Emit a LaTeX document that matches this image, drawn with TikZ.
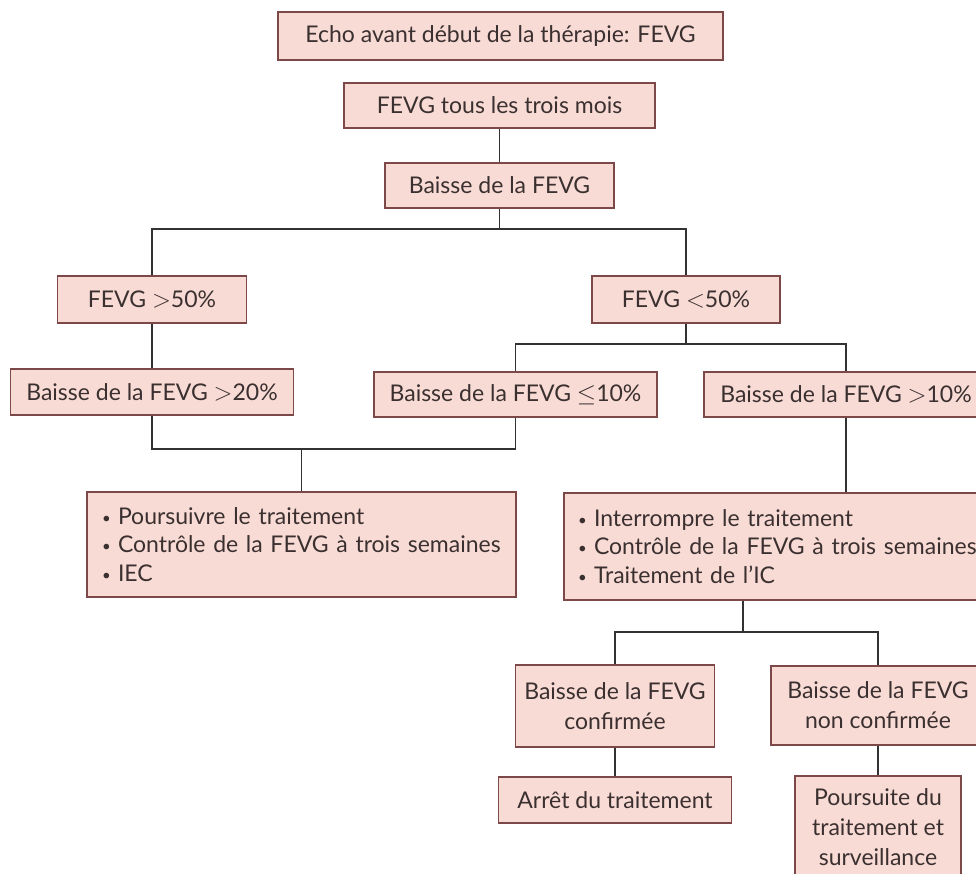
\documentclass[tikz,border=0pt]{standalone}
\usepackage{fontspec}
\setmainfont{Lato}
\definecolor{boxfill}{RGB}{249,219,213}
\definecolor{boxline}{RGB}{125,72,72}
\definecolor{txtcol}{RGB}{58,48,48}
\definecolor{wirecol}{RGB}{50,50,50}
\newcommand{\bul}{\makebox[16pt][l]{\raisebox{1pt}{\fontsize{15}{15}\selectfont •}}}
\begin{document}
\begin{tikzpicture}[x=1pt,y=-1pt,
  box/.style={draw=boxline, line width=1.6pt, fill=boxfill, text=txtcol,
    font=\fontsize{23}{30}\selectfont, inner sep=0pt, align=center},
  listbox/.style={box, align=left, font=\fontsize{23}{28.5}\selectfont},
  wire/.style={draw=wirecol, line width=1.8pt}]
\clip (0,0) rectangle (976,873);
\fill[white] (0,0) rectangle (976,873);

\node[box, minimum width=445pt, minimum height=48pt] (n1) at (500.5,36) {Echo avant début de la thérapie: FEVG};
\node[box, minimum width=311pt, minimum height=45pt] (n2) at (499.5,105.5) {FEVG tous les trois mois};
\node[box, minimum width=229pt, minimum height=45pt] (n3) at (499.5,185.5) {Baisse de la FEVG};
\node[box, minimum width=189pt, minimum height=47pt] (n4) at (152,299.5) {FEVG $>$50\%};
\node[box, minimum width=188pt, minimum height=47pt] (n5) at (686,299.5) {FEVG $<$50\%};
\node[box, minimum width=283pt, minimum height=46pt] (n6) at (152,392) {Baisse de la FEVG $>$20\%};
\node[box, minimum width=283pt, minimum height=45pt] (n7) at (515.5,394.5) {Baisse de la FEVG $\leq$10\%};
\node[box, minimum width=284pt, minimum height=45pt] (n8) at (846,394.5) {Baisse de la FEVG $>$10\%};
\node[listbox, text width=399pt, inner xsep=15pt, minimum height=105pt] (n9) at (301.5,544.5)
  {\bul Poursuivre le traitement\\ \bul Contrôle de la FEVG à trois semaines\\ \bul IEC};
\node[listbox, text width=420pt, inner xsep=14pt, minimum height=107pt] (n10) at (788,546.5)
  {\bul Interrompre le traitement\\ \bul Contrôle de la FEVG à trois semaines\\ \bul Traitement de l’IC};
\node[box, minimum width=199pt, minimum height=82pt] (n11) at (615,706) {Baisse de la FEVG\\ confirmée};
\node[box, minimum width=214pt, minimum height=79pt] (n12) at (878,705.5) {Baisse de la FEVG\\ non confirmée};
\node[box, minimum width=233pt, minimum height=46pt] (n13) at (615,800) {Arrêt du traitement};
\node[box, minimum width=166pt, minimum height=103pt] (n14) at (878,827.5) {Poursuite du\\ traitement et\\ surveillance};

\coordinate (s1) at (499.5,229);
\coordinate (s2) at (686,344);
\coordinate (j1) at (301.5,449);
\coordinate (s3) at (743,632);

\draw[wire] (n2.south) -- (n3.north);
\draw[wire] (n3.south) -- (s1);
\draw[wire] (n4.north) |- (s1) -| (n5.north);
\draw[wire] (n4.south) -- (n6.north);
\draw[wire] (n5.south) -- (s2);
\draw[wire] (n7.north) |- (s2) -| (n8.north);
\draw[wire] (n6.south) |- (j1) -| (n7.south);
\draw[wire] (j1) -- (n9.north);
\draw[wire] (n8.south) -- (n8.south |- n10.north);
\draw[wire] (s3 |- n10.south) -- (s3);
\draw[wire] (n11.north) |- (s3) -| (n12.north);
\draw[wire] (n11.south) -- (n13.north);
\draw[wire] (n12.south) -- (n14.north);
\end{tikzpicture}
\end{document}
